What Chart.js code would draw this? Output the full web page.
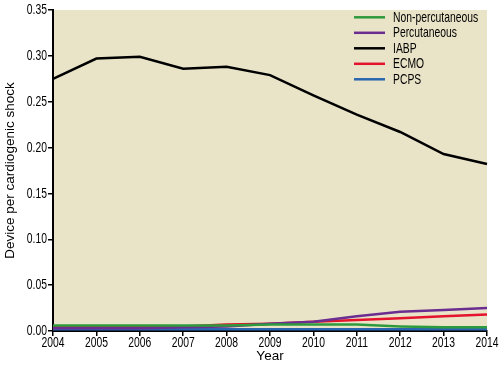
<!DOCTYPE html>
<html>
<head>
<meta charset="utf-8">
<script src="https://cdn.jsdelivr.net/npm/chart.js@4"></script>
<style>
  html, body { margin: 0; padding: 0; background: #fff; }
  #wrap { width: 502px; height: 369px; }
</style>
</head>
<body>
<div id="wrap"><canvas id="deviceChart" width="502" height="369"></canvas></div>
<script>
const years = ["2004", "2005", "2006", "2007", "2008", "2009", "2010", "2011", "2012", "2013", "2014"];
const nonPercutaneous = [0.006, 0.006, 0.006, 0.006, 0.006, 0.007, 0.007, 0.007, 0.005, 0.004, 0.004];
const percutaneous = [0.003, 0.003, 0.003, 0.004, 0.005, 0.008, 0.010, 0.016, 0.021, 0.023, 0.025];
const iabp = [0.275, 0.297, 0.299, 0.286, 0.288, 0.279, 0.257, 0.236, 0.217, 0.193, 0.182];
const ecmo = [0.005, 0.005, 0.005, 0.005, 0.007, 0.008, 0.010, 0.012, 0.014, 0.016, 0.018];
const pcps = [0.002, 0.002, 0.002, 0.002, 0.002, 0.002, 0.002, 0.002, 0.002, 0.002, 0.002];
const yTicks = [0, 0.05, 0.10, 0.15, 0.20, 0.25, 0.30, 0.35];

// no condensed face is installed, so tick and legend text is squeezed horizontally
const FONT = "15px 'Liberation Sans', Arial, sans-serif";
const TITLE_FONT = "13.5px 'Liberation Sans', Arial, sans-serif";
const SQUEEZE = 0.69;

function squeezedText(ctx, text, x, y, align, sx, rotate) {
  ctx.save();
  ctx.translate(x, y);
  if (rotate) ctx.rotate(-Math.PI / 2);
  ctx.scale(sx, 1);
  ctx.textAlign = align;
  ctx.fillText(text, 0, 0);
  ctx.restore();
}

// beige plot background
const plotBackground = {
  id: "plotBackground",
  beforeDraw(chart) {
    const { ctx, chartArea } = chart;
    ctx.save();
    ctx.fillStyle = "#e9e4c8";
    ctx.fillRect(chartArea.left, chartArea.top, chartArea.right - chartArea.left, chartArea.bottom - chartArea.top);
    ctx.restore();
  }
};

// axis labels, titles and legend
const textLayer = {
  id: "textLayer",
  afterDraw(chart) {
    const { ctx, chartArea } = chart;
    const xs = chart.scales.x, ys = chart.scales.y;
    ctx.save();
    ctx.font = FONT;
    ctx.fillStyle = "#000";
    ctx.textBaseline = "middle";
    years.forEach((yr, i) => squeezedText(ctx, yr, xs.getPixelForValue(i), chartArea.bottom + 12, "center", SQUEEZE));
    yTicks.forEach(v => squeezedText(ctx, v.toFixed(2), chartArea.left - 6, ys.getPixelForValue(v), "right", SQUEEZE));

    ctx.font = TITLE_FONT;
    squeezedText(ctx, "Year", (chartArea.left + chartArea.right) / 2, chartArea.bottom + 25, "center", 1);
    squeezedText(ctx, "Device per cardiogenic shock", 10, (chartArea.top + chartArea.bottom) / 2, "center", 1, true);

    ctx.font = FONT;
    chart.data.datasets.forEach((ds, i) => {
      const y = chartArea.top + 7.3 + i * 15.5;
      ctx.strokeStyle = ds.borderColor;
      ctx.lineWidth = 2.5;
      ctx.beginPath();
      ctx.moveTo(354, y);
      ctx.lineTo(385, y);
      ctx.stroke();
      squeezedText(ctx, ds.label, 393, y + 0.5, "left", SQUEEZE);
    });
    ctx.restore();
  }
};

const ctx = document.getElementById("deviceChart").getContext("2d");
new Chart(ctx, {
  type: "line",
  data: {
    labels: years,
    datasets: [
      { label: "Non-percutaneous", data: nonPercutaneous, borderColor: "#2e9a3e" },
      { label: "Percutaneous", data: percutaneous, borderColor: "#6b2d90" },
      { label: "IABP", data: iabp, borderColor: "#000000" },
      { label: "ECMO", data: ecmo, borderColor: "#e3142c" },
      { label: "PCPS", data: pcps, borderColor: "#2a66b0" }
    ].map(d => Object.assign(d, { borderWidth: 2.5, pointRadius: 0, tension: 0, fill: false }))
  },
  options: {
    responsive: false,
    animation: false,
    layout: { padding: { top: 10, right: 15, left: 0, bottom: 0 } },
    plugins: { legend: { display: false }, tooltip: { enabled: false } },
    scales: {
      x: {
        offset: false,
        grid: { display: true, drawOnChartArea: false, drawTicks: true, tickLength: 5, color: "#000", lineWidth: 1.5 },
        border: { display: true, color: "#000", width: 2 },
        ticks: { color: "rgba(0,0,0,0)", font: { size: 6 }, maxRotation: 0, autoSkip: false },
        afterFit(scale) { scale.height = 38; }
      },
      y: {
        min: 0,
        max: 0.35,
        afterBuildTicks(scale) { scale.ticks = yTicks.map(v => ({ value: v })); },
        grid: { display: true, drawOnChartArea: false, drawTicks: true, tickLength: 5, color: "#000", lineWidth: 1.5 },
        border: { display: true, color: "#000", width: 2 },
        ticks: { color: "rgba(0,0,0,0)", font: { size: 6 } },
        afterFit(scale) { scale.width = 53; }
      }
    }
  },
  plugins: [plotBackground, textLayer]
});
</script>
</body>
</html>
